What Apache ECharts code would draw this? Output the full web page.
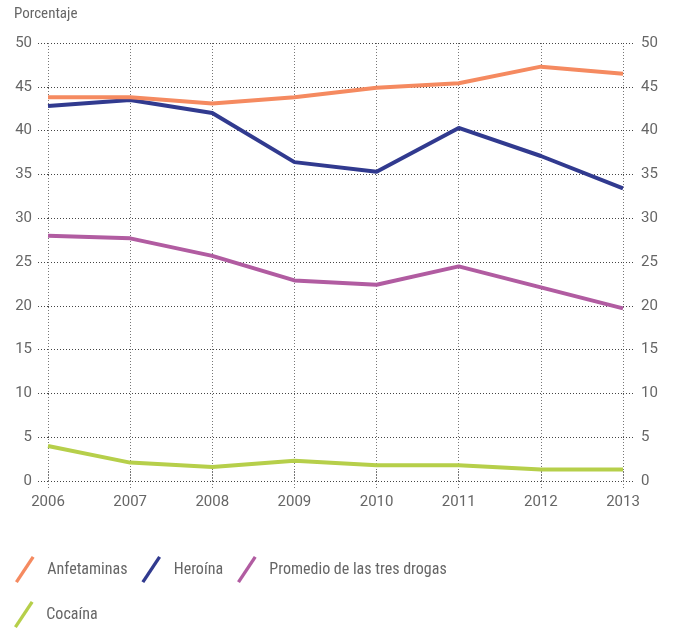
<!DOCTYPE html>
<html><head><meta charset="utf-8">
<script src="https://cdn.jsdelivr.net/npm/echarts@6/dist/echarts.min.js"></script>
<style>html,body{margin:0;padding:0;background:#fff}#c{width:678px;height:628px}</style>
</head><body><div id="c"></div>
<script>
const years = ['2006','2007','2008','2009','2010','2011','2012','2013'];
const yTicks = [0,5,10,15,20,25,30,35,40,45,50];
const anfetaminas = [43.8, 43.8, 43.1, 43.8, 44.9, 45.4, 47.3, 46.5];
const heroina = [42.8, 43.5, 42.0, 36.4, 35.3, 40.3, 37.1, 33.4];
const promedio = [28.0, 27.7, 25.7, 22.9, 22.4, 24.5, 22.1, 19.7];
const cocaina = [4.0, 2.1, 1.6, 2.3, 1.8, 1.8, 1.3, 1.3];
const names = ['Anfetaminas','Heroína','Promedio de las tres drogas','Cocaína'];
const colors = ['#F58A60','#313A8F','#B15CA1','#B6CF4A'];

const font = "'Liberation Sans Narrow','Roboto Condensed','Liberation Sans',sans-serif";
const numFont = "Roboto,'Liberation Sans',sans-serif";
const gridLine = {type:[1,2], color:'#444', width:1};
const vLine = {type:[1,2], color:'#777', width:1};
const icon = 'path://M0,27 L18,0 L21,2 L3,29 Z';

const chart = echarts.init(document.getElementById('c'));
const series = [anfetaminas, heroina, promedio, cocaina].map((d,i)=>({
  name: names[i], type:'line', data:d, symbol:'none',
  lineStyle:{width:4, color:colors[i]}, itemStyle:{color:colors[i]}, z: 10 - i
}));
const legendText = {fontSize:16, color:'#666', fontFamily:font, padding:[0,0,0,7]};
chart.setOption({
  animation:false,
  textStyle:{fontFamily:font},
  title:{text:'Porcentaje', left:9, top:2, textStyle:{fontSize:15, fontWeight:'normal', color:'#666', fontFamily:font}},
  grid:{left:48, right:55, top:43, bottom:147},
  legend:[
    {data:names.slice(0,3), left:10, top:551, itemWidth:21, itemHeight:27, itemGap:14, icon:icon,
     textStyle:legendText},
    {data:names.slice(3), left:9, top:596, itemWidth:21, itemHeight:27, icon:icon,
     textStyle:legendText}
  ],
  xAxis:[
    {type:'category', data:years, boundaryGap:false, position:'bottom',
     axisLine:{show:false}, axisTick:{show:true, length:9, alignWithLabel:true, lineStyle:vLine},
     splitLine:{show:true, lineStyle:vLine},
     axisLabel:{color:'#666', fontSize:15, margin:14, fontFamily:numFont}},
    {type:'category', data:years, boundaryGap:false, position:'top',
     axisLine:{show:false}, axisTick:{show:true, length:11, lineStyle:vLine},
     axisLabel:{show:false}}
  ],
  yAxis:[
    {type:'value', min:0, max:50, interval:5, position:'left',
     axisLine:{show:false}, axisTick:{show:true, length:10, lineStyle:gridLine},
     splitLine:{show:true, lineStyle:gridLine},
     axisLabel:{color:'#666', fontSize:15, margin:16, fontFamily:numFont,
       formatter:v=>yTicks.includes(v)?String(v):''}},
    {type:'value', min:0, max:50, interval:5, position:'right',
     axisLine:{show:false}, axisTick:{show:true, length:10, lineStyle:gridLine},
     splitLine:{show:false},
     axisLabel:{color:'#666', fontSize:15, margin:18, fontFamily:numFont,
       formatter:v=>yTicks.includes(v)?String(v):''}}
  ],
  series: series
});
</script></body></html>
